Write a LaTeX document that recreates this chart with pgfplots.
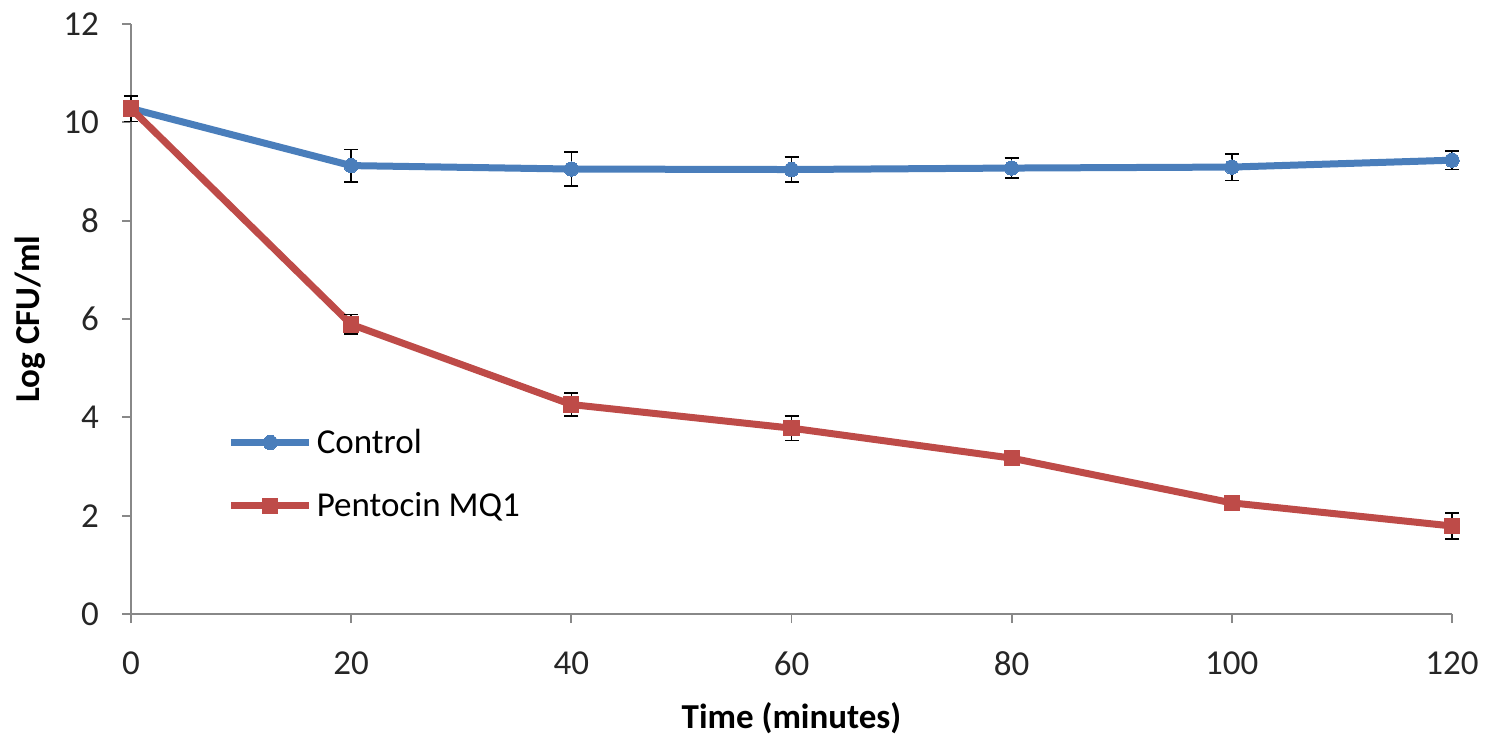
\documentclass[border=0pt]{standalone}
\usepackage{fontspec}
\setmainfont{Carlito}
\usepackage{pgfplots}
\pgfplotsset{compat=1.18}
\definecolor{cblue}{HTML}{4A7EBB}
\definecolor{cred}{HTML}{BE4B48}
\definecolor{axgray}{HTML}{888888}
\begin{document}
\begin{tikzpicture}
\useasboundingbox (-65.5pt,-65.5pt) rectangle (684pt,307pt);
\begin{axis}[
  at={(0,0)}, anchor=south west,
  scale only axis,
  width=660.5pt, height=295pt,
  xmin=0, xmax=120, ymin=0, ymax=12,
  xtick={0,20,...,120}, ytick={0,2,...,12},
  axis x line*=bottom, axis y line*=left,
  axis line style={-, draw=axgray, line width=0.9pt},
  tick style={draw=axgray, line width=0.9pt},
  tick align=outside, major tick length=4.5pt,
  /pgf/number format/assume math mode=true,
  tick label style={font=\fontsize{17.5}{21}\selectfont, text=black!85},
  xticklabel style={yshift=-11pt},
  yticklabel style={xshift=-8pt},
  xlabel={\textbf{Time (minutes)}},
  ylabel={\textbf{Log CFU/ml}},
  label style={font=\fontsize{17.5}{21}\selectfont},
  xlabel style={at={(axis description cs:0.5,0)}, anchor=center, yshift=-52pt},
  ylabel style={at={(axis description cs:0,0.5)}, anchor=center, rotate=0, yshift=50.5pt},
  clip=false,
  legend cell align=left,
  legend style={draw=none, fill=none, at={(0.073,0.2373)}, anchor=west,
    font=\fontsize{17.5}{21}\selectfont, row sep=14pt, inner sep=0pt},
  legend image code/.code={
    \draw[#1, mark repeat=2, mark phase=2] plot coordinates {(0pt,0pt) (19.5pt,0pt) (39pt,0pt)};
  },
  error bars/error bar style={black, line width=0.8pt},
  error bars/error mark options={rotate=90, mark size=3.5pt, black, line width=0.8pt},
]
\addplot+[cblue, line width=3.5pt, mark=*, mark size=3.6pt, mark options={fill=cblue, draw=cblue, line width=0pt},
  error bars/.cd, y dir=both, y explicit]
  coordinates {
  (0,10.28) +- (0,0.26)
  (20,9.12) +- (0,0.33)
  (40,9.05) +- (0,0.35)
  (60,9.04) +- (0,0.25)
  (80,9.07) +- (0,0.20)
  (100,9.09) +- (0,0.27)
  (120,9.23) +- (0,0.19)
  };
\addlegendentry{Control}
\addplot+[cred, line width=3.5pt, mark=square*, mark size=3.8pt, mark options={fill=cred, draw=cred, line width=0pt},
  error bars/.cd, y dir=both, y explicit]
  coordinates {
  (0,10.28) +- (0,0.05)
  (20,5.89) +- (0,0.20)
  (40,4.26) +- (0,0.23)
  (60,3.78) +- (0,0.25)
  (80,3.17) +- (0,0.05)
  (100,2.26) +- (0,0.05)
  (120,1.79) +- (0,0.27)
  };
\addlegendentry{Pentocin MQ1}
\end{axis}
\end{tikzpicture}
\end{document}
